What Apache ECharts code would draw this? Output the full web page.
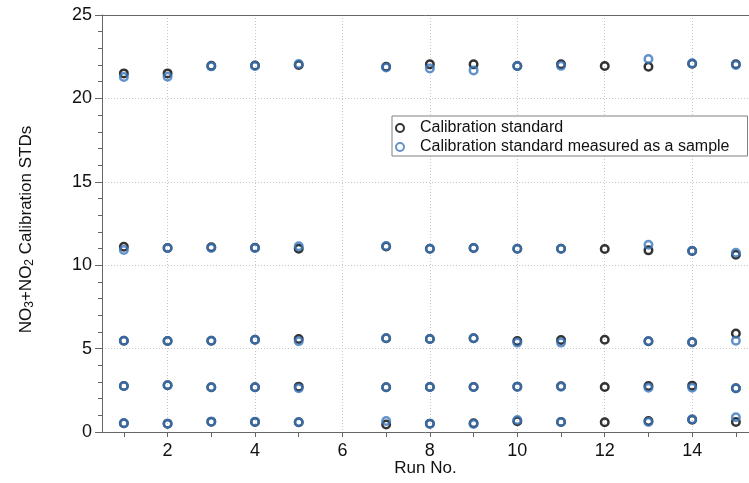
<!DOCTYPE html>
<html>
<head>
<meta charset="utf-8">
<script src="https://cdn.jsdelivr.net/npm/echarts@6/dist/echarts.min.js"></script>
<style>
	html, body { margin: 0; padding: 0; background: #fff; }
	#chart { width: 749px; height: 483px; }
</style>
</head>
<body>
<div id="chart"></div>
<script>
	const font = '"Liberation Sans", Arial, Helvetica, sans-serif'
	const black = '#000000'
	const blue = '#3a77bd'
	const axisGray = '#666666'
	const gridGray = '#c8c8c8'

	// run numbers (run 6 missing)
	const runs = [1, 2, 3, 4, 5, 7, 8, 9, 10, 11, 12, 13, 14, 15]
	const tickRuns = [1, 2, 3, 4, 5, 6, 7, 8, 9, 10, 11, 12, 13, 14, 15]
	const labelRuns = [2, 4, 6, 8, 10, 12, 14]

	// calibration standard, one array per concentration level
	const std1 = [0.52, 0.5, 0.62, 0.6, 0.58, 0.45, 0.5, 0.52, 0.64, 0.6, 0.58, 0.66, 0.74, 0.6]
	const std2 = [2.76, 2.8, 2.68, 2.68, 2.72, 2.68, 2.7, 2.7, 2.72, 2.74, 2.7, 2.76, 2.78, 2.62]
	const std3 = [5.47, 5.46, 5.47, 5.53, 5.58, 5.62, 5.58, 5.62, 5.46, 5.52, 5.53, 5.44, 5.38, 5.9]
	const std4 = [11.11, 11.03, 11.08, 11.05, 10.99, 11.12, 10.99, 11.03, 10.99, 10.99, 10.97, 10.89, 10.85, 10.63]
	const std5 = [21.5, 21.5, 21.95, 21.97, 22.0, 21.9, 22.04, 22.04, 21.94, 22.04, 21.94, 21.9, 22.08, 22.05]

	// calibration standard measured as a sample (none for run 12)
	const smp1 = [0.52, 0.5, 0.62, 0.62, 0.58, 0.66, 0.5, 0.48, 0.72, 0.6, null, 0.6, 0.76, 0.88]
	const smp2 = [2.76, 2.8, 2.68, 2.68, 2.63, 2.68, 2.7, 2.7, 2.72, 2.72, null, 2.66, 2.66, 2.62]
	const smp3 = [5.47, 5.46, 5.47, 5.53, 5.44, 5.62, 5.58, 5.62, 5.36, 5.36, null, 5.44, 5.38, 5.47]
	const smp4 = [10.91, 11.03, 11.03, 11.03, 11.13, 11.15, 10.99, 11.03, 10.99, 10.99, null, 11.23, 10.87, 10.75]
	const smp5 = [21.28, 21.3, 21.92, 21.94, 22.06, 21.86, 21.8, 21.68, 21.94, 21.95, null, 22.36, 22.1, 22.0]

	const toPoints = (levels) => {
		let pts = []
		levels.forEach((arr) => {
			arr.forEach((v, i) => {
				if (v !== null) pts.push([runs[i], v])
			})
		})
		return pts
	}

	const chart = echarts.init(document.getElementById('chart'))
	const option = {
		animation: false,
		backgroundColor: '#fff',
		textStyle: { fontFamily: font },
		grid: {
			left: 102,
			top: 15,
			right: 0,
			bottom: 51
		},
		legend: {
			orient: 'vertical',
			left: 392,
			top: 116,
			padding: [4, 18, 1, 3],
			itemGap: 3,
			itemWidth: 20,
			itemHeight: 8,
			borderColor: '#808080',
			borderWidth: 1,
			backgroundColor: '#fff',
			icon: 'circle',
			textStyle: { fontFamily: font, fontSize: 16, color: '#111', lineHeight: 16, padding: [0, 0, 0, 5] },
			data: [
				{ name: 'Calibration standard', itemStyle: { color: 'rgba(0,0,0,0)', borderColor: black, borderWidth: 2 } },
				{ name: 'Calibration standard measured as a sample', itemStyle: { color: 'rgba(0,0,0,0)', borderColor: blue, borderWidth: 2 } }
			]
		},
		xAxis: [
			{
				type: 'value',
				min: 0.5,
				max: 15.3,
				name: 'Run No.',
				nameLocation: 'middle',
				nameGap: 28,
				nameTextStyle: { fontFamily: font, fontSize: 17, color: '#111' },
				axisLine: { show: true, onZero: false, lineStyle: { color: axisGray } },
				axisTick: { show: true, length: 5, customValues: tickRuns, lineStyle: { color: axisGray } },
				axisLabel: { show: false },
				splitLine: { show: false }
			},
			{
				type: 'value',
				min: 0.5,
				max: 15.3,
				position: 'bottom',
				axisLine: { show: false },
				axisTick: { show: false, customValues: labelRuns },
				axisLabel: { show: true, customValues: labelRuns, margin: 10, fontFamily: font, fontSize: 18, color: '#111' },
				splitLine: { show: true, lineStyle: { color: gridGray, type: [1, 2] } }
			},
			{
				type: 'value',
				min: 0.5,
				max: 15.3,
				position: 'top',
				axisLine: { show: true, onZero: false, lineStyle: { color: axisGray } },
				axisTick: { show: false },
				axisLabel: { show: false },
				splitLine: { show: false }
			}
		],
		yAxis: {
			type: 'value',
			min: 0,
			max: 25,
			interval: 5,
			name: 'NO{s|3}+NO{s|2} Calibration STDs',
			nameLocation: 'middle',
			nameGap: 66,
			nameTextStyle: {
				fontFamily: font,
				fontSize: 17,
				color: '#111',
				lineHeight: 20,
				padding: [0, 12, 0, 0],
				rich: {
					s: { fontFamily: font, fontSize: 12, color: '#111', lineHeight: 20, verticalAlign: 'bottom', padding: [7, 0, 0, 0] }
				}
			},
			axisLine: { show: true, onZero: false, lineStyle: { color: axisGray } },
			axisTick: { show: true, length: 7, lineStyle: { color: axisGray } },
			minorTick: { show: true, splitNumber: 5, length: 4, lineStyle: { color: axisGray } },
			axisLabel: { margin: 10, fontFamily: font, fontSize: 18, color: '#111' },
			splitLine: { show: true, lineStyle: { color: gridGray, type: [1, 2] } }
		},
		series: [
			{
				name: 'Calibration standard',
				type: 'scatter',
				symbol: 'circle',
				symbolSize: 7.5,
				itemStyle: { color: 'rgba(0,0,0,0)', borderColor: black, borderWidth: 2.5 },
				data: toPoints([std1, std2, std3, std4, std5])
			},
			{
				name: 'Calibration standard measured as a sample',
				type: 'scatter',
				symbol: 'circle',
				symbolSize: 7.5,
				itemStyle: { color: 'rgba(0,0,0,0)', borderColor: blue, borderWidth: 2.5 },
				data: toPoints([smp1, smp2, smp3, smp4, smp5])
			}
		]
	}
	chart.setOption(option)
	window.onresize = () => {
		chart.resize()
	}
</script>
</body>
</html>
